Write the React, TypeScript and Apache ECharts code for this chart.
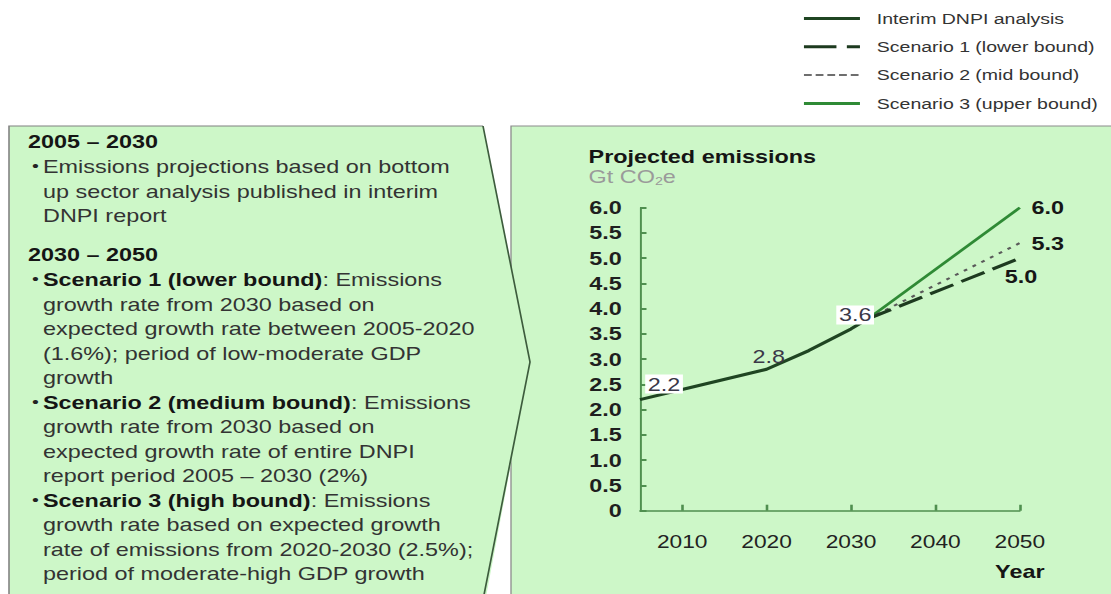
import React, { useEffect, useRef } from "react";
import * as echarts from "echarts";

// ---- data ----
const seriesNames = [
  "Interim DNPI analysis",
  "Scenario 1 (lower bound)",
  "Scenario 2 (mid bound)",
  "Scenario 3 (upper bound)",
];
const interimYears = [2005, 2010, 2020, 2025, 2030, 2032];
const interimValues = [2.2, 2.4, 2.8, 3.17, 3.6, 3.8];
const scenarioYears = [2032, 2050];
const scenario1Values = [3.8, 5.0];
const scenario2Values = [3.8, 5.3];
const scenario3Values = [3.8, 6.0];
const xTickYears = [2010, 2020, 2030, 2040, 2050];
const labelledInterimYears = [2005, 2020, 2030];

// ---- layout (the reference picture is stretched horizontally) ----
const SX = 1.3;
const W = 1111 / SX;
const H = 594;
const px = (x: number) => x / SX;
const FONT = "'Liberation Sans', Arial, Helvetica, sans-serif";
const BOX_FILL = "#cdf7c8";

const leftLines: { y: number; bullet?: boolean; indent?: boolean; b?: string; r?: string }[] = [
  { y: 142, b: "2005 – 2030" },
  { y: 167, bullet: true, r: "Emissions projections based on bottom" },
  { y: 191.5, indent: true, r: "up sector analysis published in interim" },
  { y: 216, indent: true, r: "DNPI report" },
  { y: 255, b: "2030 – 2050" },
  { y: 280, bullet: true, b: "Scenario 1 (lower bound)", r: ": Emissions" },
  { y: 304.5, indent: true, r: "growth rate from 2030 based on" },
  { y: 329, indent: true, r: "expected growth rate between 2005-2020" },
  { y: 353.5, indent: true, r: "(1.6%); period of low-moderate GDP" },
  { y: 378, indent: true, r: "growth" },
  { y: 402.5, bullet: true, b: "Scenario 2 (medium bound)", r: ": Emissions" },
  { y: 427, indent: true, r: "growth rate from 2030 based on" },
  { y: 451.5, indent: true, r: "expected growth rate of entire DNPI" },
  { y: 476, indent: true, r: "report period 2005 – 2030 (2%)" },
  { y: 500.5, bullet: true, b: "Scenario 3 (high bound)", r: ": Emissions" },
  { y: 525, indent: true, r: "growth rate based on expected growth" },
  { y: 549.5, indent: true, r: "rate of emissions from 2020-2030 (2.5%);" },
  { y: 574, indent: true, r: "period of moderate-high GDP growth" },
];

function buildOption() {
  const interimLabelCfg: Record<number, { offset: number[]; boxed: boolean }> = {
    2005: { offset: [18.5, -15.5], boxed: true },
    2020: { offset: [1.7, -13], boxed: false },
    2030: { offset: [3.2, -14], boxed: true },
  };
  const interimData = interimYears.map((yr, i) => {
    if (labelledInterimYears.indexOf(yr) < 0) return [yr, interimValues[i]];
    const cfg = interimLabelCfg[yr];
    return {
      value: [yr, interimValues[i]],
      label: {
        show: true,
        position: "inside",
        offset: cfg.offset,
        formatter: (p: any) => p.value[1].toFixed(1),
        fontFamily: FONT,
        fontSize: 18,
        color: "#3a3848",
        backgroundColor: cfg.boxed ? "#ffffff" : "transparent",
        padding: cfg.boxed ? [1, 2, 0, 2] : 0,
      },
    };
  });
  const endLabel = (pos: string, offset: number[] | null) => ({
    show: true,
    position: pos,
    distance: 9,
    offset: offset || [0, 0],
    formatter: (p: any) => p.value[1].toFixed(1),
    fontFamily: FONT,
    fontSize: 18,
    fontWeight: "bold",
    color: "#161616",
  });
  const scen = (vals: number[], pos: string, offset: number[] | null) =>
    scenarioYears.map((yr, i) =>
      i === scenarioYears.length - 1
        ? { value: [yr, vals[i]], label: endLabel(pos, offset) }
        : [yr, vals[i]]
    );

  const axisColor = "#4f8f4f";

  const graphics: any[] = [
    {
      type: "rect",
      z: -10,
      silent: true,
      shape: { x: px(511), y: 126, width: 500, height: 520 },
      style: { fill: BOX_FILL, stroke: "#8c8c8c", lineWidth: 1 },
    },
    {
      type: "polygon",
      z: -9,
      silent: true,
      shape: {
        points: [
          [px(9), 126],
          [px(483), 126],
          [px(530), 362],
          [px(483.6), 610],
          [px(9), 610],
        ],
      },
      style: { fill: BOX_FILL },
    },
    {
      type: "polyline",
      z: -8,
      silent: true,
      shape: { points: [[px(9), 610], [px(9), 126], [px(483), 126]] },
      style: { stroke: "#808080", lineWidth: 1.2, fill: null },
    },
    {
      type: "polyline",
      z: -8,
      silent: true,
      shape: { points: [[px(483), 126], [px(530), 362], [px(481), 610]] },
      style: { stroke: "#3d5c3d", lineWidth: 1.3, fill: null },
    },
  ];

  leftLines.forEach((ln) => {
    const x = ln.bullet || ln.indent ? px(43) : px(28);
    let txt = "";
    if (ln.b) txt += "{b|" + ln.b + "}";
    if (ln.r) txt += "{r|" + ln.r + "}";
    graphics.push({
      type: "text",
      z: 1,
      silent: true,
      style: {
        text: txt,
        x,
        y: ln.y,
        verticalAlign: "middle",
        fontFamily: FONT,
        fontSize: 18,
        fill: "#333",
        rich: {
          b: { fontFamily: FONT, fontSize: 18, fontWeight: "bold", fill: "#151515" },
          r: { fontFamily: FONT, fontSize: 18, fill: "#333333" },
        },
      },
    });
    if (ln.bullet) {
      graphics.push({
        type: "text",
        z: 1,
        silent: true,
        style: {
          text: "•",
          x: px(32),
          y: ln.y - 1,
          verticalAlign: "middle",
          fontFamily: FONT,
          fontSize: 15,
          fill: "#222",
        },
      });
    }
  });

  return {
    animation: false,
    backgroundColor: "transparent",
    textStyle: { fontFamily: FONT },
    title: {
      left: px(588.6),
      top: 147,
      padding: 0,
      itemGap: 0,
      text: "Projected emissions",
      textStyle: { fontFamily: FONT, fontSize: 18, fontWeight: "bold", color: "#151515", lineHeight: 20 },
      subtext: "{a|Gt CO}{s|2}{a|e}",
      subtextStyle: {
        rich: {
          a: { fontFamily: FONT, fontSize: 18, color: "#9a9a9a", lineHeight: 20 },
          s: { fontFamily: FONT, fontSize: 11, color: "#9a9a9a", lineHeight: 12, verticalAlign: "bottom" },
        },
      },
    },
    legend: {
      orient: "vertical",
      left: px(802),
      top: 11,
      padding: 0,
      itemWidth: px(56),
      itemHeight: 14,
      itemGap: 13.3,
      selectedMode: false,
      textStyle: { fontFamily: FONT, fontSize: 15, color: "#333", padding: [0, 0, 0, 8] },
      itemStyle: { color: "rgba(0,0,0,0)", borderWidth: 0, opacity: 0 },
      data: [
        { name: seriesNames[0], lineStyle: { width: 3, type: "solid", color: "#1f4522" } },
        { name: seriesNames[1], lineStyle: { width: 3, type: [25, 8], color: "#1d3a1f" } },
        { name: seriesNames[2], lineStyle: { width: 2, type: [6, 3], color: "#6e6e6e" } },
        { name: seriesNames[3], lineStyle: { width: 3, type: "solid", color: "#2f8a35" } },
      ],
    },
    grid: {
      left: px(640),
      right: W - px(1019.8),
      top: 207.7,
      bottom: H - 510.7,
      containLabel: false,
    },
    xAxis: {
      type: "value",
      min: 2005,
      max: 2050,
      name: "Year",
      nameLocation: "end",
      nameGap: 0,
      nameMoveOverlap: false,
      nameTextStyle: {
        fontFamily: FONT,
        fontSize: 18,
        fontWeight: "bold",
        color: "#151515",
        align: "center",
        verticalAlign: "top",
        lineHeight: 18,
        padding: [52, 0, 0, 0],
      },
      axisLine: { show: true, lineStyle: { color: axisColor, width: 1.5 } },
      axisTick: {
        show: true,
        inside: true,
        length: 6,
        customValues: xTickYears,
        lineStyle: { color: axisColor, width: 2 },
      },
      axisLabel: {
        customValues: xTickYears,
        margin: 22,
        fontFamily: FONT,
        fontSize: 17.5,
        color: "#222",
        formatter: (v: number) => String(v),
      },
      splitLine: { show: false },
    },
    yAxis: {
      type: "value",
      min: 0,
      max: 6,
      interval: 0.5,
      axisLine: { show: true, lineStyle: { color: axisColor, width: 1.5 } },
      axisTick: { show: true, inside: true, length: 5, lineStyle: { color: axisColor, width: 2 } },
      axisLabel: {
        margin: 14,
        fontFamily: FONT,
        fontSize: 18,
        fontWeight: "bold",
        color: "#1f1f1f",
        formatter: (v: number) => (v === 0 ? "0" : v.toFixed(1)),
      },
      splitLine: { show: false },
    },
    graphic: graphics,
    series: [
      {
        type: "line",
        name: seriesNames[3],
        data: scen(scenario3Values, "right", null),
        symbol: "circle",
        symbolSize: 0.1,
        showSymbol: true,
        z: 3,
        lineStyle: { color: "#2f8a35", width: 2.5 },
        itemStyle: { color: "#2f8a35" },
      },
      {
        type: "line",
        name: seriesNames[2],
        data: scen(scenario2Values, "right", null),
        symbol: "circle",
        symbolSize: 0.1,
        showSymbol: true,
        z: 3,
        lineStyle: { color: "#5a5a5a", width: 2, type: [3, 5] },
        itemStyle: { color: "#5a5a5a" },
      },
      {
        type: "line",
        name: seriesNames[1],
        data: scen(scenario1Values, "inside", [1, 18.5]),
        symbol: "circle",
        symbolSize: 0.1,
        showSymbol: true,
        z: 3,
        lineStyle: { color: "#1d3a1f", width: 3, type: [20, 7] },
        itemStyle: { color: "#1d3a1f" },
      },
      {
        type: "line",
        name: seriesNames[0],
        data: interimData,
        symbol: "circle",
        symbolSize: 0.1,
        showSymbol: true,
        z: 4,
        lineStyle: { color: "#1f4522", width: 3 },
        itemStyle: { color: "#1f4522" },
      },
    ],
  };
}

export default function App() {
  const ref = useRef<HTMLDivElement>(null);
  useEffect(() => {
    if (!ref.current) return;
    const chart = echarts.init(ref.current, undefined, { renderer: "svg", width: W, height: H });
    chart.setOption(buildOption() as any);
    return () => chart.dispose();
  }, []);
  return (
    <div
      style={{
        position: "fixed",
        left: 0,
        top: 0,
        width: W,
        height: H,
        background: "#ffffff",
        transform: `scaleX(${SX})`,
        transformOrigin: "0 0",
        overflow: "hidden",
      }}
    >
      <div ref={ref} style={{ width: W, height: H }} />
    </div>
  );
}
